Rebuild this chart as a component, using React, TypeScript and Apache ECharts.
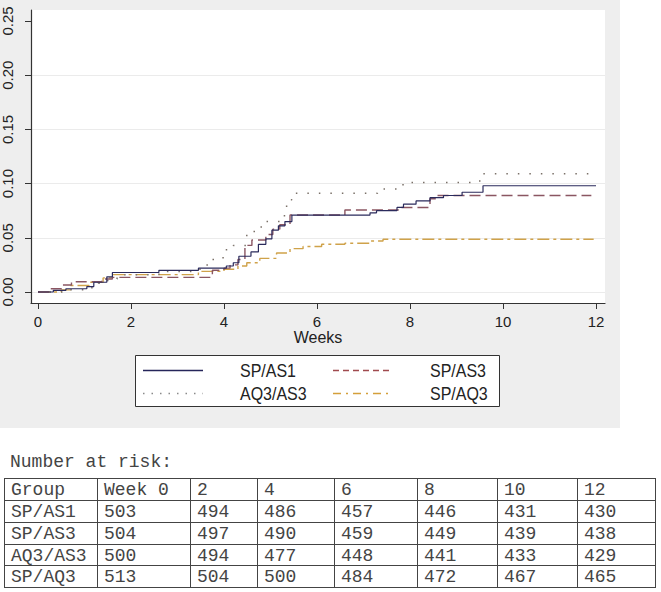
import React, { useEffect, useRef } from "react";
import * as echarts from "echarts";

// ---- data ----
const weekTicks = [0, 2, 4, 6, 8, 10, 12];
const riskTicks = [0, 0.05, 0.1, 0.15, 0.2, 0.25];
const gridLevels = [0, 0.05, 0.1, 0.15, 0.2];

const spAs1Weeks = [0, 0.33, 0.6, 1.05, 1.2, 1.48, 1.6, 2.6, 3.45, 4.05, 4.2, 4.32, 4.58, 4.74, 4.9, 5.03, 5.17, 5.31, 5.46, 7.14, 7.28, 7.72, 7.86, 8.13, 8.43, 8.72, 9.12, 9.57, 12];
const spAs1Cum = [0, 0.0015, 0.003, 0.005, 0.009, 0.014, 0.018, 0.02, 0.022, 0.024, 0.027, 0.033, 0.037, 0.044, 0.049, 0.057, 0.061, 0.065, 0.071, 0.073, 0.075, 0.078, 0.081, 0.084, 0.087, 0.089, 0.092, 0.098, 0.098];

const spAs3Weeks = [0, 0.25, 0.5, 0.72, 1.37, 1.6, 3.75, 4.0, 4.13, 4.3, 4.45, 4.6, 4.9, 5.05, 5.2, 5.42, 6.6, 7.75, 8.43, 8.57, 11.9];
const spAs3Cum = [0, 0.003, 0.0065, 0.0095, 0.012, 0.0135, 0.02, 0.022, 0.025, 0.03, 0.043, 0.048, 0.053, 0.058, 0.062, 0.071, 0.0757, 0.078, 0.086, 0.089, 0.089];

const aq3As3Weeks = [0, 0.6, 1.0, 1.3, 1.5, 1.7, 2.6, 3.4, 3.55, 3.73, 3.98, 4.2, 4.49, 4.65, 4.88, 5.3, 5.42, 5.46, 7.3, 7.85, 9.5, 11.95];
const aq3As3Cum = [0, 0.002, 0.004, 0.008, 0.012, 0.016, 0.019, 0.021, 0.025, 0.03, 0.039, 0.043, 0.053, 0.06, 0.065, 0.079, 0.085, 0.091, 0.095, 0.101, 0.109, 0.109];

const spAq3Weeks = [0, 0.5, 0.7, 1.1, 1.4, 1.6, 3.45, 4.0, 4.3, 4.49, 4.77, 5.13, 5.42, 5.7, 6.1, 6.6, 7.14, 7.42, 11.95];
const spAq3Cum = [0, 0.002, 0.006, 0.009, 0.013, 0.016, 0.019, 0.021, 0.024, 0.027, 0.031, 0.036, 0.04, 0.042, 0.044, 0.045, 0.047, 0.0486, 0.0486];

const groupNames = ["SP/AS1", "SP/AS3", "AQ3/AS3", "SP/AQ3"];
const tableHeader = ["Group", "Week 0", "2", "4", "6", "8", "10", "12"];
const atRiskSpAs1 = [503, 494, 486, 457, 446, 431, 430];
const atRiskSpAs3 = [504, 497, 490, 459, 449, 439, 438];
const atRiskAq3As3 = [500, 494, 477, 448, 441, 433, 429];
const atRiskSpAq3 = [513, 504, 500, 484, 472, 467, 465];

// ---- styles ----
const SANS = "'Liberation Sans', Arial, sans-serif";
const MONO = "'Liberation Mono', 'Courier New', monospace";
const TEXT = "#222";
const seriesStyles = [
  { color: "#2b2b5c", type: "solid" as any, width: 1.2 },
  { color: "#8a5662", type: [11, 5] as any, width: 1.4 },
  { color: "#7a7068", type: [1.5, 10] as any, width: 1.5 },
  { color: "#cfa24a", type: [12, 4, 3, 4] as any, width: 1.4 },
];
const legendDash = [null, [6, 4], [1.5, 7], [8, 5, 2, 5]];
const legendColors = ["#25255a", "#a04a4e", "#8a8a8a", "#d49f3a"];

function pairs(t: number[], v: number[]) {
  return t.map((x, i) => [x, v[i]]);
}

export default function App() {
  const ref = useRef<HTMLDivElement>(null);
  useEffect(() => {
    if (!ref.current) return;
    const chart = echarts.init(ref.current, null, { renderer: "svg" });
    const seriesData = [
      pairs(spAs1Weeks, spAs1Cum),
      pairs(spAs3Weeks, spAs3Cum),
      pairs(aq3As3Weeks, aq3As3Cum),
      pairs(spAq3Weeks, spAq3Cum),
    ];

    const graphics: any[] = [];
    // outer gray background
    graphics.push({ type: "rect", z: -10, shape: { x: 0, y: 0, width: 620, height: 428 }, style: { fill: "#eeeeee" }, silent: true });
    // legend box
    const lgL = 135, lgT = 355, lgR = 499, lgB = 406;
    graphics.push({ type: "rect", shape: { x: lgL + 0.5, y: lgT + 0.5, width: lgR - lgL, height: lgB - lgT }, style: { fill: "#ffffff", stroke: "#333", lineWidth: 1 } });
    const lgRows = [370, 393];
    const lgSampleX = [[143, 203], [333, 393]];
    const lgTextX = [240, 430];
    groupNames.forEach((name, i) => {
      const r = Math.floor(i / 2), c = i % 2;
      const y = lgRows[r];
      graphics.push({
        type: "line",
        shape: { x1: lgSampleX[c][0], y1: y + 0.5, x2: lgSampleX[c][1], y2: y + 0.5 },
        style: { stroke: legendColors[i], lineWidth: 1.5, lineDash: legendDash[i] || undefined },
      });
      graphics.push({
        type: "text", x: lgTextX[c], y: y + 1, scaleY: 1.1,
        style: { text: name, font: `16px ${SANS}`, fill: TEXT, align: "left", verticalAlign: "middle" },
      });
    });

    // number at risk table
    graphics.push({ type: "text", x: 10, y: 462, style: { text: "Number at risk:", font: `18px ${MONO}`, fill: "#444", align: "left", verticalAlign: "middle" } });
    const colX = [4, 97, 190, 257, 334, 417, 497, 577, 655];
    const rowY = [478, 500, 522, 544, 565, 587];
    const rows = [
      tableHeader,
      [groupNames[0], ...atRiskSpAs1.map(String)],
      [groupNames[1], ...atRiskSpAs3.map(String)],
      [groupNames[2], ...atRiskAq3As3.map(String)],
      [groupNames[3], ...atRiskSpAq3.map(String)],
    ];
    rowY.forEach((y) => {
      graphics.push({ type: "line", shape: { x1: colX[0], y1: y + 0.5, x2: colX[colX.length - 1] + 1, y2: y + 0.5 }, style: { stroke: "#444", lineWidth: 1 } });
    });
    colX.forEach((x) => {
      graphics.push({ type: "line", shape: { x1: x + 0.5, y1: rowY[0], x2: x + 0.5, y2: rowY[rowY.length - 1] + 1 }, style: { stroke: "#444", lineWidth: 1 } });
    });
    rows.forEach((row, ri) => {
      const cy = (rowY[ri] + rowY[ri + 1]) / 2 + 1;
      row.forEach((cell, ci) => {
        graphics.push({
          type: "text", x: colX[ci] + 7, y: cy,
          style: { text: cell, font: `18px ${MONO}`, fill: "#444", align: "left", verticalAlign: "middle" },
        });
      });
    });

    chart.setOption({
      animation: false,
      backgroundColor: "#ffffff",
      grid: { left: 31, top: 10, width: 574, height: 293, show: true, backgroundColor: "#ffffff", borderWidth: 0, containLabel: false },
      xAxis: {
        type: "value", min: -0.1505, max: 12.1935,
        name: "Weeks", nameLocation: "middle", nameGap: 26,
        nameTextStyle: { fontSize: 16, color: TEXT, fontFamily: SANS },
        axisLine: { onZero: false, lineStyle: { color: "#333", width: 1.2 } },
        axisTick: { customValues: weekTicks, length: 6, lineStyle: { color: "#333" } },
        axisLabel: { customValues: weekTicks, margin: 11, fontSize: 15, color: TEXT, fontFamily: SANS },
        splitLine: { show: false },
      },
      yAxis: {
        type: "value", min: -0.01015, max: 0.26015,
        axisLine: { onZero: false, lineStyle: { color: "#333", width: 1.2 } },
        axisTick: { customValues: riskTicks, length: 6, lineStyle: { color: "#333" } },
        axisLabel: { customValues: riskTicks, rotate: 90, margin: 16, fontSize: 15, color: TEXT, fontFamily: SANS, formatter: (v: number) => v.toFixed(2) },
        splitLine: { show: false },
      },
      series: [
        {
          type: "line", name: "grid", data: [], z: 1, silent: true,
          markLine: {
            z: 0, silent: true, symbol: ["none", "none"], label: { show: false },
            lineStyle: { color: "#ebebeb", type: "solid", width: 1 },
            data: gridLevels.map((v) => ({ yAxis: v })),
          },
        },
        ...groupNames.map((name, i) => ({
          type: "line", name, step: "end", data: seriesData[i], symbol: "none", z: 3 + (3 - i),
          lineStyle: seriesStyles[i],
        })),
      ],
      graphic: graphics,
    });
    return () => chart.dispose();
  }, []);
  return <div ref={ref} style={{ position: "fixed", left: 0, top: 0, width: 661, height: 592 }} />;
}
